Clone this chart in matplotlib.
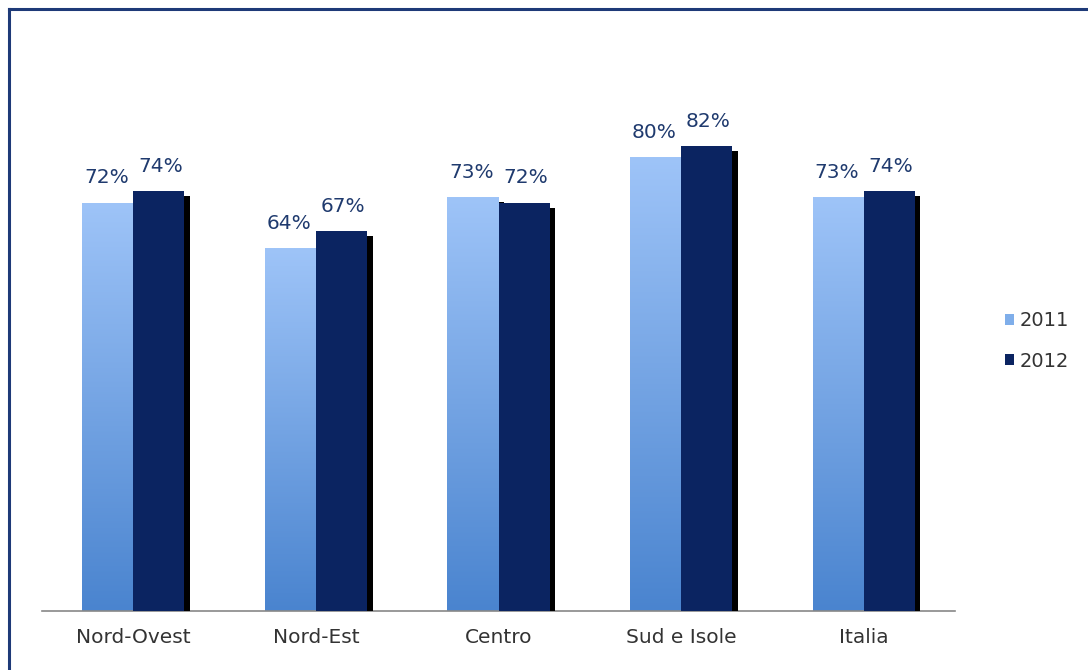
import numpy as np
import matplotlib
matplotlib.use("Agg")
import matplotlib.pyplot as plt
import matplotlib.patheffects as pe
from matplotlib.colors import LinearSegmentedColormap
from matplotlib.patches import Patch
from matplotlib.lines import Line2D

regions = ["Nord-Ovest", "Nord-Est", "Centro", "Sud e Isole", "Italia"]
val_2011 = [0.72, 0.64, 0.73, 0.80, 0.73]
val_2012 = [0.74, 0.67, 0.72, 0.82, 0.74]
series_names = ["2011", "2012"]

label_color = "#1F3A6E"
navy = "#0B2461"
grad_2011 = LinearSegmentedColormap.from_list("g2011", ["#4A84CF", "#9EC4F8"])

fig = plt.figure(figsize=(10.88, 6.70), dpi=100)
ax = fig.add_axes([42 / 1088, 1 - 611 / 670, 913 / 1088, 567 / 670])

x = np.arange(len(regions))
w = 0.28

bars1 = ax.bar(x - w / 2, val_2011, w, color="#7FAEEA", zorder=2,
               path_effects=[pe.SimplePatchShadow(offset=(4, -3.5), shadow_rgbFace="black", alpha=1.0), pe.Normal()])
bars2 = ax.bar(x + w / 2, val_2012, w, color=navy, zorder=3,
               path_effects=[pe.SimplePatchShadow(offset=(4, -3.5), shadow_rgbFace="black", alpha=1.0), pe.Normal()])

# vertical gradient on the 2011 bars
grad = np.linspace(0, 1, 256).reshape(-1, 1)
for b in bars1:
    x0, y0 = b.get_x(), b.get_y()
    im = ax.imshow(grad, cmap=grad_2011, origin="lower", aspect="auto",
                   extent=[x0, x0 + b.get_width(), y0, y0 + b.get_height()], zorder=2.5)
    im.set_clip_path(b)

for b, v in zip(bars1, val_2011):
    ax.annotate(f"{v:.0%}", (b.get_x() + b.get_width() / 2, v), xytext=(-1, 11),
                textcoords="offset points", ha="center", va="bottom", fontsize=14.5, color=label_color)
for b, v in zip(bars2, val_2012):
    ax.annotate(f"{v:.0%}", (b.get_x() + b.get_width() / 2, v), xytext=(1, 11),
                textcoords="offset points", ha="center", va="bottom", fontsize=14.5, color=label_color)

ax.set_xlim(-0.5, len(regions) - 0.5)
ax.set_ylim(0, 1.0)
ax.set_xticks(x)
ax.set_xticklabels(regions, fontsize=14.5, color="#333333")
ax.tick_params(axis="x", length=0, pad=12)
ax.set_yticks([])
for s in ["top", "right", "left"]:
    ax.spines[s].set_visible(False)
ax.spines["bottom"].set_color("#888888")
ax.spines["bottom"].set_linewidth(1.2)
ax.set_zorder(1)

handles = [Patch(facecolor="#7FAEEA", edgecolor="none"), Patch(facecolor=navy, edgecolor="none")]
fig.legend(handles, series_names, loc="center left", bbox_to_anchor=(987 / 1088, 1 - 341 / 670),
           frameon=False, fontsize=14, handlelength=0.5, handleheight=0.5, handletextpad=0.3,
           labelspacing=1.1, labelcolor="#333333")

# frame around the picture (top and left edges visible)
fig.add_artist(Line2D([9 / 1088, 1.0], [1 - 9 / 670, 1 - 9 / 670], color="#1E3A78", lw=2.2))
fig.add_artist(Line2D([9 / 1088, 9 / 1088], [0.0, 1 - 9 / 670], color="#1E3A78", lw=2.2))

fig.savefig("out.png", dpi=100)
